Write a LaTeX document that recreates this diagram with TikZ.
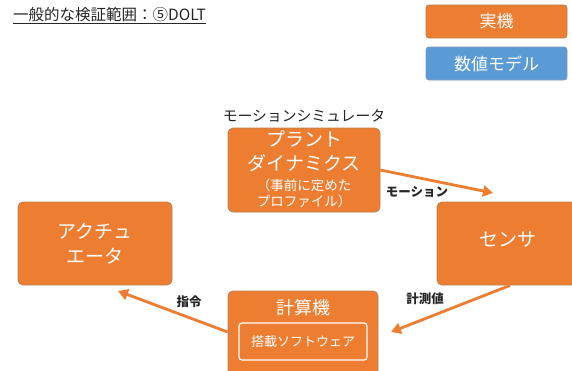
\documentclass[tikz,border=0pt]{standalone}
\usepackage{fontspec}
\setmainfont{Noto Sans CJK JP}
\usetikzlibrary{arrows.meta}
\definecolor{orng}{HTML}{ED7D31}
\definecolor{obrd}{HTML}{B8804F}
\definecolor{blu}{HTML}{5B9BD5}
\definecolor{bbrd}{HTML}{7F9DBA}
\definecolor{txt}{HTML}{262626}
\tikzset{
  obox/.style={fill=orng, draw=obrd, line width=0.8pt, rounded corners=5pt, text=white, align=center, inner sep=0pt},
  bbox/.style={fill=blu, draw=bbrd, line width=0.8pt, rounded corners=3pt, text=white, align=center, inner sep=0pt},
  conn/.style={draw=orng, line width=2.8pt, -{Triangle[length=10pt,width=11pt]}},
  lbl/.style={text=txt, font=\fontsize{12.5}{12.5}\selectfont\bfseries, inner sep=0pt}
}
\begin{document}
\begin{tikzpicture}[x=1pt,y=-1pt]
\clip (0,0) rectangle (572,370);
\fill[white] (0,0) rectangle (572,370);
% title
\node[anchor=west, text=txt, inner sep=0pt, font=\fontsize{15.5}{15.5}\selectfont] (title) at (13,16) {\underline{一般的な検証範囲：⑤DOLT}};
% legend
\node[obox, rounded corners=3pt, minimum width=141pt, minimum height=33pt, font=\fontsize{17}{17}\selectfont] (leg1) at (496.5,21.5) {実機};
\node[bbox, minimum width=141pt, minimum height=33pt, font=\fontsize{17}{17}\selectfont] (leg2) at (496.5,63.5) {数値モデル};
% plant
\node[text=txt, inner sep=0pt, font=\fontsize{14.8}{14.8}\selectfont] (simlbl) at (304,116) {モーションシミュレータ};
\node[obox, minimum width=152pt, minimum height=84pt] (plant) at (304,170) {};
\node[text=white, inner sep=0pt, font=\fontsize{19}{19}\selectfont] (pl1) at (304,139) {プラント};
\node[text=white, inner sep=0pt, font=\fontsize{19}{19}\selectfont] (pl2) at (304,163) {ダイナミクス};
\node[text=white, inner sep=0pt, font=\fontsize{13.5}{13.5}\selectfont] (pl3) at (304,185) {（事前に定めた};
\node[text=white, inner sep=0pt, font=\fontsize{13.5}{13.5}\selectfont] (pl4) at (304,201) {プロファイル）};
% actuator
\node[obox, minimum width=154pt, minimum height=83pt, font=\fontsize{19}{25}\selectfont] (act) at (95,243.5) {アクチュ\\エータ};
% sensor
\node[obox, minimum width=154pt, minimum height=83pt] (sens) at (514,243.5) {};
\node[text=white, inner sep=0pt, font=\fontsize{19}{19}\selectfont] (senst) at (508,240) {センサ};
% computer
\node[obox, minimum width=150pt, minimum height=86pt] (comp) at (303,334) {};
\node[text=white, inner sep=0pt, font=\fontsize{18}{18}\selectfont] (compt) at (303,308) {計算機};
\node[draw=white, line width=1.2pt, rounded corners=3pt, minimum width=128pt, minimum height=37pt, inner sep=0pt, text=white, font=\fontsize{13}{13}\selectfont] (soft) at (303,341.5) {搭載ソフトウェア};
% connectors
\coordinate (t1) at (493,193);
\coordinate (t2) at (391,332);
\coordinate (t3) at (118,291);
\draw[conn] (plant.east) -- (t1);
\draw[conn] (sens.south -| 510,0) -- (t2);
\draw[conn] (comp.west |- 0,332) -- (t3);
\node[lbl] (l1) at (417,192) {モーション};
\node[lbl] (l2) at (425,299) {計測値};
\node[lbl] (l3) at (189,302) {指令};
\end{tikzpicture}
\end{document}
